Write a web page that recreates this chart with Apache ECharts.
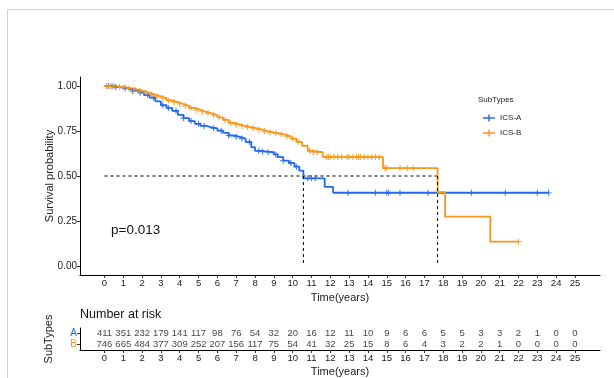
<!DOCTYPE html>
<html>
<head>
<meta charset="utf-8">
<script src="https://cdn.jsdelivr.net/npm/echarts@6/dist/echarts.min.js"></script>
<style>
  html, body { margin: 0; padding: 0; background: #fff; }
  #chart { width: 614px; height: 378px; }
</style>
</head>
<body>
<div id="chart"></div>
<script>
// Kaplan-Meier step estimates: [time in years, survival probability]
const timesA = [0, 0.3, 0.6, 0.9, 1.2, 1.5, 1.8, 2.1, 2.4, 2.7, 3.0, 3.3, 3.6, 3.9, 4.2, 4.5, 4.8, 5.1, 5.4, 5.7, 6.0, 6.3, 6.6, 6.9, 7.2, 7.5, 7.8, 8.0, 8.3, 8.7, 9.0, 9.2, 9.5, 9.8, 10.1, 10.35, 10.57, 11.7, 12.15, 23.6];
const survA  = [1.000, 0.998, 0.993, 0.987, 0.980, 0.972, 0.962, 0.950, 0.935, 0.915, 0.893, 0.878, 0.862, 0.840, 0.822, 0.805, 0.790, 0.778, 0.770, 0.765, 0.752, 0.740, 0.725, 0.718, 0.708, 0.690, 0.660, 0.640, 0.635, 0.632, 0.620, 0.605, 0.585, 0.572, 0.552, 0.530, 0.487, 0.440, 0.407, 0.407];

const timesB = [0, 0.3, 0.6, 0.9, 1.2, 1.5, 1.8, 2.1, 2.4, 2.7, 3.0, 3.3, 3.6, 3.9, 4.2, 4.5, 4.8, 5.1, 5.4, 5.7, 6.0, 6.3, 6.6, 6.9, 7.2, 7.5, 7.8, 8.1, 8.4, 8.7, 9.0, 9.3, 9.6, 9.9, 10.2, 10.5, 10.8, 11.0, 11.6, 14.8, 17.7, 18.1, 20.5, 22.0];
const survB  = [1.000, 0.998, 0.995, 0.991, 0.987, 0.980, 0.972, 0.962, 0.952, 0.942, 0.932, 0.920, 0.910, 0.900, 0.890, 0.878, 0.867, 0.857, 0.848, 0.838, 0.826, 0.812, 0.795, 0.785, 0.778, 0.772, 0.765, 0.757, 0.748, 0.742, 0.737, 0.730, 0.720, 0.708, 0.690, 0.668, 0.640, 0.632, 0.606, 0.544, 0.410, 0.274, 0.135, 0.135];

// Censoring times
const censorA = [0.2, 0.4, 0.6, 1.1, 1.5, 1.9, 2.3, 2.6, 3.1, 3.4, 3.8, 4.2, 4.6, 5.0, 5.3, 5.8, 6.2, 6.6, 7.0, 7.3, 7.7, 8.2, 8.4, 8.7, 9.1, 9.5, 9.9, 10.2, 10.8, 11.0, 11.2, 12.95, 14.4, 15.0, 15.1, 15.7, 17.2, 19.5, 21.3, 23.0, 23.6];
const censorB = [0.1, 0.3, 0.5, 0.8, 1.0, 1.3, 1.6, 1.9, 2.2, 2.5, 2.8, 3.1, 3.4, 3.7, 4.0, 4.3, 4.6, 4.9, 5.2, 5.5, 5.8, 6.1, 6.4, 6.7, 7.0, 7.3, 7.6, 7.9, 8.2, 8.5, 8.8, 9.1, 9.4, 9.7, 10.0, 10.3, 10.9, 11.1, 11.3, 11.8, 11.9, 12.0, 12.2, 12.4, 12.6, 12.9, 13.0, 13.2, 13.4, 13.5, 13.6, 13.8, 14.0, 14.2, 14.4, 14.6, 14.9, 15.0, 15.7, 16.1, 16.4, 22.0];

// Number at risk at each whole year
const riskYears = [0,1,2,3,4,5,6,7,8,9,10,11,12,13,14,15,16,17,18,19,20,21,22,23,24,25];
const riskA = [411,351,232,179,141,117,98,76,54,32,20,16,12,11,10,9,6,6,5,5,3,3,2,1,0,0];
const riskB = [746,665,484,377,309,252,207,156,117,75,54,41,32,25,15,8,6,4,3,2,2,1,0,0,0,0];

const groupNames = ['ICS-A', 'ICS-B'];
const rowNames = ['A', 'B'];
const yTicks = [0, 0.25, 0.5, 0.75, 1];
const pText = 'p=0.013';

const colA = '#2368ee';
const colB = '#f5981c';
const plusPath = 'path://M4,0h2v4h4v2h-4v4h-2v-4h-4v-2h4z';

function pairs(ts, ss) { return ts.map((t, i) => [t, ss[i]]); }
function survAt(ts, ss, t) {
  let v = ss[0];
  for (let i = 0; i < ts.length; i++) { if (ts[i] <= t) v = ss[i]; else break; }
  return v;
}
function median(ts, ss) {
  for (let i = 0; i < ts.length; i++) if (ss[i] <= 0.5) return ts[i];
  return null;
}
const medA = median(timesA, survA);
const medB = median(timesB, survB);
const medMax = Math.max(medA, medB);

const fontFam = 'Liberation Sans, Arial, sans-serif';
const axisText = { color: '#222', fontSize: 9.5, fontFamily: fontFam };

const chart = echarts.init(document.getElementById('chart'), null, { renderer: 'canvas' });

const xAxisCommon = {
  type: 'value', min: -1.3, max: 26.33,
  axisLine: { show: true, onZero: false, lineStyle: { color: '#000', width: 1 } },
  axisTick: { show: true, length: 3, lineStyle: { color: '#333' }, customValues: riskYears },
  axisLabel: Object.assign({ margin: 3, customValues: riskYears }, axisText),
  splitLine: { show: false },
  name: 'Time(years)', nameLocation: 'middle', nameGap: 15,
  nameTextStyle: { color: '#222', fontSize: 11, fontFamily: fontFam }
};

chart.setOption({
  animation: false,
  backgroundColor: '#fff',
  grid: [
    { left: 80, right: 14, top: 77, height: 198 },
    { left: 80, right: 14, top: 328, height: 24 }
  ],
  xAxis: [
    Object.assign({ gridIndex: 0 }, xAxisCommon),
    Object.assign({ gridIndex: 1 }, xAxisCommon, { nameGap: 16 })
  ],
  yAxis: [
    {
      gridIndex: 0, type: 'value', min: -0.05, max: 1.05,
      axisLine: { show: true, onZero: false, lineStyle: { color: '#000', width: 1 } },
      axisTick: { show: true, length: 3, lineStyle: { color: '#333' }, customValues: yTicks },
      axisLabel: Object.assign({ margin: 3, customValues: yTicks, formatter: v => v.toFixed(2) }, axisText, { fontSize: 10 }),
      splitLine: { show: false },
      name: 'Survival probability', nameLocation: 'middle', nameGap: 25, nameMoveOverlap: false,
      nameTextStyle: { color: '#222', fontSize: 11, fontFamily: fontFam }
    },
    {
      gridIndex: 1, type: 'category', data: rowNames.slice().reverse(),
      axisLine: { show: true, onZero: false, lineStyle: { color: '#000', width: 1 } },
      axisTick: { show: true, length: 3, alignWithLabel: true, interval: 0, lineStyle: { color: '#333' } },
      axisLabel: { margin: 3, interval: 0, fontSize: 10, fontFamily: fontFam, color: v => v === 'A' ? colA : colB },
      name: 'SubTypes', nameLocation: 'middle', nameGap: 26,
      nameTextStyle: { color: '#222', fontSize: 11, fontFamily: fontFam }
    }
  ],
  legend: {
    left: 478, top: 109, orient: 'vertical', itemWidth: 12, itemHeight: 7, itemGap: 7,
    textStyle: { fontSize: 8, color: '#222', fontFamily: fontFam },
    data: [
      { name: groupNames[0], icon: 'path://M0,2.8h12v1.4h-12z M5.3,0h1.4v7h-1.4z' },
      { name: groupNames[1], icon: 'path://M0,2.8h12v1.4h-12z M5.3,0h1.4v7h-1.4z' }
    ]
  },
  series: [
    {
      name: groupNames[0], type: 'line', step: 'end', xAxisIndex: 0, yAxisIndex: 0,
      data: pairs(timesA, survA), showSymbol: false, symbol: 'none',
      lineStyle: { color: colA, width: 1.8 }, itemStyle: { color: colA }, z: 2
    },
    {
      name: groupNames[1], type: 'line', step: 'end', xAxisIndex: 0, yAxisIndex: 0,
      data: pairs(timesB, survB), showSymbol: false, symbol: 'none',
      lineStyle: { color: colB, width: 1.8 }, itemStyle: { color: colB }, z: 3
    },
    {
      name: groupNames[0], type: 'scatter', xAxisIndex: 0, yAxisIndex: 0,
      data: censorA.map(t => [t, survAt(timesA, survA, t)]),
      symbol: plusPath, symbolSize: 6, itemStyle: { color: colA }, z: 3
    },
    {
      name: groupNames[1], type: 'scatter', xAxisIndex: 0, yAxisIndex: 0,
      data: censorB.map(t => [t, survAt(timesB, survB, t)]),
      symbol: plusPath, symbolSize: 6, itemStyle: { color: colB }, z: 4
    },
    {
      // median survival reference lines
      type: 'line', xAxisIndex: 0, yAxisIndex: 0, symbol: 'none', silent: true,
      data: [[0, 0.5], [medMax, 0.5]],
      lineStyle: { color: '#000', width: 1, type: [3, 3] }, z: 1
    },
    {
      type: 'line', xAxisIndex: 0, yAxisIndex: 0, symbol: 'none', silent: true,
      data: [[medA, 0.5], [medA, 0]],
      lineStyle: { color: '#000', width: 1, type: [3, 3] }, z: 5
    },
    {
      type: 'line', xAxisIndex: 0, yAxisIndex: 0, symbol: 'none', silent: true,
      data: [[medB, 0.5], [medB, 0]],
      lineStyle: { color: '#000', width: 1, type: [3, 3] }, z: 5
    },
    {
      // risk table numbers
      type: 'scatter', xAxisIndex: 1, yAxisIndex: 1, symbolSize: 0, silent: true,
      data: riskYears.map((y, i) => [y, 'A', riskA[i]]).concat(riskYears.map((y, i) => [y, 'B', riskB[i]])),
      label: {
        show: true, position: 'inside', formatter: p => String(p.value[2]),
        color: '#111', fontSize: 9.5, fontFamily: fontFam
      }
    }
  ],
  graphic: [
    { type: 'line', shape: { x1: 7.5, y1: 9.5, x2: 614, y2: 9.5 }, style: { stroke: '#cfcfcf', lineWidth: 1 } },
    { type: 'line', shape: { x1: 7.5, y1: 9.5, x2: 7.5, y2: 378 }, style: { stroke: '#cfcfcf', lineWidth: 1 } },
    { type: 'text', left: 478, top: 96, style: { text: 'SubTypes', fontSize: 8, fill: '#222', fontFamily: fontFam } },
    { type: 'text', left: 111, top: 223, style: { text: pText, fontSize: 13.5, fill: '#111', fontFamily: fontFam } },
    { type: 'text', left: 80, top: 308, style: { text: 'Number at risk', fontSize: 12.5, fill: '#111', fontFamily: fontFam } }
  ]
});
</script>
</body>
</html>
